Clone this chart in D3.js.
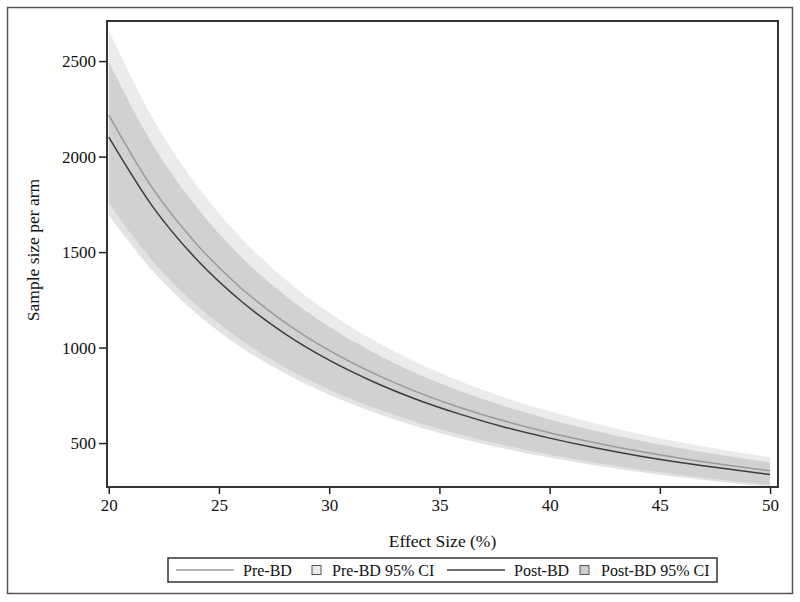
<!DOCTYPE html>
<html>
<head>
<meta charset="utf-8">
<script src="https://cdn.jsdelivr.net/npm/d3@7"></script>
<style>
  body { margin: 0; background: #fff; }
  text { font-family: "Liberation Serif", "DejaVu Serif", serif; fill: #111; }
</style>
</head>
<body>
<div id="chart"></div>
<script>
// effect size (%) and sample size per arm
let effectSize = [20, 22, 24, 26, 28, 30, 32, 34, 36, 38, 40, 42, 44, 46, 48, 50];
let preBD      = [2217, 1832, 1540, 1312, 1131, 985, 866, 767, 684, 614, 554, 503, 458, 419, 385, 355];
let postBD     = [2102, 1737, 1460, 1244, 1072, 934, 821, 727, 649, 582, 526, 477, 434, 397, 365, 336];
let preUpper   = [2662, 2200, 1849, 1575, 1358, 1183, 1040, 921, 821, 737, 666, 604, 550, 503, 462, 426];
let preLower   = [1757, 1452, 1220, 1040, 896, 781, 686, 608, 542, 487, 439, 398, 363, 332, 305, 281];
let postUpper  = [2495, 2062, 1733, 1476, 1273, 1109, 975, 863, 770, 691, 624, 566, 515, 472, 433, 399];
let postLower  = [1694, 1400, 1176, 1002, 864, 753, 662, 586, 523, 469, 424, 384, 350, 320, 294, 271];

let xTicks = [20, 25, 30, 35, 40, 45, 50];
let yTicks = [500, 1000, 1500, 2000, 2500];

let data = effectSize.map(function(d, i) {
    return { es: d, pre: preBD[i], post: postBD[i],
             preHi: preUpper[i], preLo: preLower[i],
             postHi: postUpper[i], postLo: postLower[i] };
});

// dimensions of the graph
let W = 800, H = 602;
let margin = {top: 21, right: 22, bottom: 115, left: 107},
    width = W - margin.left - margin.right,
    height = H - margin.top - margin.bottom;

let root = d3.select("#chart")
    .append("svg")
    .attr("width", W)
    .attr("height", H);

// outer frame
root.append("rect")
    .attr("x", 7.5).attr("y", 7.5)
    .attr("width", 785).attr("height", 586)
    .attr("fill", "none")
    .attr("stroke", "#555")
    .attr("stroke-width", 1.5);

let svg = root.append("g")
    .attr("transform", "translate(" + margin.left + "," + margin.top + ")");

let x = d3.scaleLinear()
    .domain([19.92, 50.36])
    .range([0, width]);

let y = d3.scaleLinear()
    .domain([270, 2710])
    .range([height, 0]);

svg.append("clipPath").attr("id", "plotclip")
    .append("rect").attr("width", width).attr("height", height);

let plot = svg.append("g").attr("clip-path", "url(#plotclip)");

// confidence bands
plot.append("path")
    .datum(data)
    .attr("fill", "#000")
    .attr("fill-opacity", 0.08)
    .attr("d", d3.area()
        .curve(d3.curveMonotoneX)
        .x(function(d) { return x(d.es); })
        .y0(function(d) { return y(d.preLo); })
        .y1(function(d) { return y(d.preHi); }));

plot.append("path")
    .datum(data)
    .attr("fill", "#000")
    .attr("fill-opacity", 0.11)
    .attr("d", d3.area()
        .curve(d3.curveMonotoneX)
        .x(function(d) { return x(d.es); })
        .y0(function(d) { return y(d.postLo); })
        .y1(function(d) { return y(d.postHi); }));

// lines
plot.append("path")
    .datum(data)
    .attr("fill", "none")
    .attr("stroke", "#9a9a9a")
    .attr("stroke-width", 1.5)
    .attr("d", d3.line()
        .curve(d3.curveMonotoneX)
        .x(function(d) { return x(d.es); })
        .y(function(d) { return y(d.pre); }));

plot.append("path")
    .datum(data)
    .attr("fill", "none")
    .attr("stroke", "#3c3c3c")
    .attr("stroke-width", 1.5)
    .attr("d", d3.line()
        .curve(d3.curveMonotoneX)
        .x(function(d) { return x(d.es); })
        .y(function(d) { return y(d.post); }));

// axes
let xAxis = svg.append("g")
    .attr("transform", "translate(0," + height + ")")
    .call(d3.axisBottom(x).tickValues(xTicks).tickFormat(d3.format("d")).tickSize(7).tickPadding(5));
let yAxis = svg.append("g")
    .call(d3.axisLeft(y).tickValues(yTicks).tickFormat(d3.format("d")).tickSize(8).tickPadding(3));

[xAxis, yAxis].forEach(function(a) {
    a.select(".domain").remove();
    a.selectAll("line").attr("stroke", "#222").attr("stroke-width", 1.5);
    a.selectAll("text")
        .style("font-family", "Liberation Serif, serif")
        .style("font-size", "17px")
        .attr("fill", "#111");
});

// plot frame
svg.append("rect")
    .attr("x", 0).attr("y", 0)
    .attr("width", width).attr("height", height)
    .attr("fill", "none")
    .attr("stroke", "#333")
    .attr("stroke-width", 2);

// axis titles
svg.append("text")
    .attr("x", width / 2)
    .attr("y", height + 60)
    .attr("text-anchor", "middle")
    .style("font-size", "17.5px")
    .text("Effect Size (%)");

svg.append("text")
    .attr("transform", "rotate(-90)")
    .attr("x", -height / 2 + 4)
    .attr("y", -68)
    .attr("text-anchor", "middle")
    .style("font-size", "17.5px")
    .text("Sample size per arm");

// legend
let lg = root.append("g").attr("transform", "translate(168,558)");
lg.append("rect")
    .attr("width", 549).attr("height", 24)
    .attr("fill", "#fff")
    .attr("stroke", "#333")
    .attr("stroke-width", 1.5);

let items = [
    {type: "line", color: "#9a9a9a", x: 8, label: "Pre-BD", tx: 75},
    {type: "box", color: "#ebebeb", x: 144, label: "Pre-BD 95% CI", tx: 164},
    {type: "line", color: "#3c3c3c", x: 279, label: "Post-BD", tx: 346},
    {type: "box", color: "#cfcfcf", x: 412, label: "Post-BD 95% CI", tx: 433}
];
items.forEach(function(it) {
    if (it.type == "line") {
        lg.append("line")
            .attr("x1", it.x).attr("x2", it.x + 58)
            .attr("y1", 12).attr("y2", 12)
            .attr("stroke", it.color)
            .attr("stroke-width", 1.5);
    } else {
        lg.append("rect")
            .attr("x", it.x).attr("y", 7.5)
            .attr("width", 9).attr("height", 9)
            .attr("fill", it.color)
            .attr("stroke", "#555")
            .attr("stroke-width", 1);
    }
    lg.append("text")
        .attr("x", it.tx)
        .attr("y", 17.5)
        .style("font-size", "16px")
        .text(it.label);
});
</script>
</body>
</html>
